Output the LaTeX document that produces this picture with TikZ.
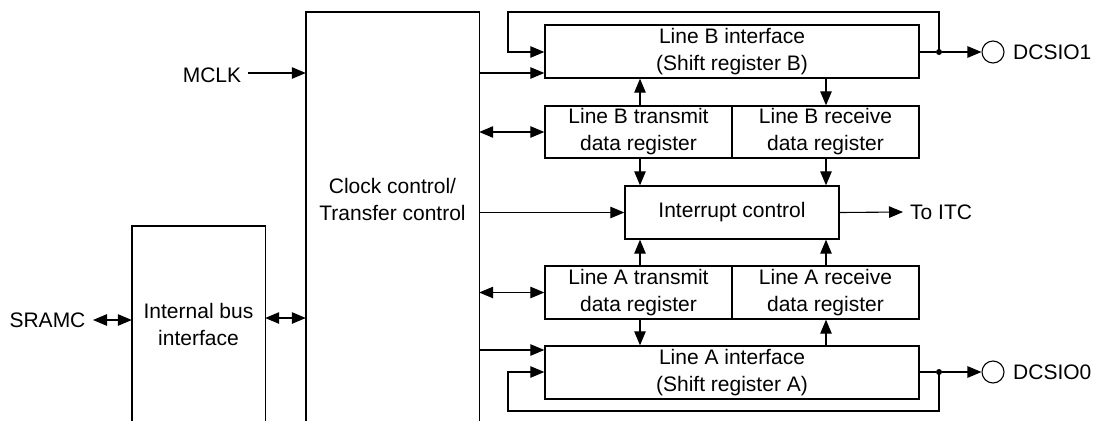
\documentclass[tikz,border=0pt]{standalone}
\usepackage{fontspec}
\setmainfont{Liberation Sans}
\usetikzlibrary{arrows.meta}
\begin{document}
\begin{tikzpicture}[x=1pt,y=-1pt,
  every node/.style={font=\fontsize{21}{27}\selectfont, inner sep=0pt},
  box/.style={draw, line width=1.4pt, align=center},
  conn/.style={line width=1.1pt},
  arr/.style={conn, -{Triangle[length=14pt,width=11.5pt]}},
  darr/.style={conn, {Triangle[length=14pt,width=11.5pt]}-{Triangle[length=14pt,width=11.5pt]}},
  dot/.style={circle, fill, minimum size=6pt, inner sep=0pt},
  port/.style={circle, draw, line width=1.1pt, minimum size=22pt, inner sep=0pt}]
\useasboundingbox (0,0) rectangle (1100,421);

% open-bottom boxes
\node[minimum width=173pt, minimum height=409pt] (clk) at (392.5,216.5) {};
\draw[line width=1.4pt] (clk.south west) -- (clk.north west) -- (clk.north east) -- (clk.south east);
\node[align=center] (clktxt) at (392.5,199) {Clock control/\\Transfer control};

\node[minimum width=133pt, minimum height=195pt] (ibi) at (198.5,323.5) {};
\draw[line width=1.4pt] (ibi.south west) -- (ibi.north west) -- (ibi.north east) -- (ibi.south east);
\node[align=center] (ibitxt) at (198.5,324) {Internal bus\\interface};

% right boxes
\node[box, minimum width=374pt, minimum height=53pt] (lbi) at (732,51.5) {Line B interface\\(Shift register B)};
\node[box, minimum width=187pt, minimum height=52pt] (lbt) at (638.5,132) {Line B transmit\\data register};
\node[box, minimum width=187pt, minimum height=52pt] (lbr) at (825.5,132) {Line B receive\\data register};
\node[box, minimum width=214pt, minimum height=53pt] (ic) at (732,212.5) {Interrupt control};
\node[box, minimum width=187pt, minimum height=53pt] (lat) at (638.5,292.5) {Line A transmit\\data register};
\node[box, minimum width=187pt, minimum height=53pt] (lar) at (825.5,292.5) {Line A receive\\data register};
\node[box, minimum width=374pt, minimum height=53pt] (lai) at (732,372.5) {Line A interface\\(Shift register A)};

% labels
\node (mclk) at (212,75) {MCLK};
\node (sramc) at (47.5,320) {SRAMC};
\node[anchor=west] (itc) at (910,212) {To ITC};

% ports
\node[port] (pB) at (993,52) {};
\node[anchor=west] (pBt) at (1013,52) {DCSIO1};
\node[port] (pA) at (993,372) {};
\node[anchor=west] (pAt) at (1013,372) {DCSIO0};
\node[dot] (jB) at (939,52) {};
\node[dot] (jA) at (939,372) {};

% left connectors
\draw[arr] (248,73) -- (clk.west |- 0,73);
\draw[darr] (93,320) -- (ibi.west |- 0,320);
\draw[darr] (ibi.east |- 0,318) -- (clk.west |- 0,318);

% clock to right blocks
\draw[arr] (clk.east |- 0,73) -- (lbi.west |- 0,73);
\draw[darr] (clk.east |- lbt) -- (lbt.west);
\draw[arr] (clk.east |- ic) -- (ic.west);
\draw[darr] (clk.east |- lat) -- (lat.west);
\draw[arr] (clk.east |- 0,350) -- (lai.west |- 0,350);

% line B
\draw[conn] (lbi.east |- jB) -- (jB);
\draw[arr] (jB) -- (pB.west);
\draw[arr] (jB.center) -- (939,12) -- (508,12) -- (508,52) -- (lbi.west |- 0,52);
\draw[arr] (lbt.north -| 640,0) -- (lbi.south -| 640,0);
\draw[arr] (lbi.south -| 826,0) -- (lbr.north -| 826,0);
\draw[arr] (lbt.south -| 640,0) -- (ic.north -| 640,0);
\draw[arr] (lbr.south -| 826,0) -- (ic.north -| 826,0);

% interrupt
\draw[arr] (ic.east) -- ([xshift=-7pt]itc.west);
\draw[arr] (lat.north -| 640,0) -- (ic.south -| 640,0);
\draw[arr] (lar.north -| 826,0) -- (ic.south -| 826,0);

% line A
\draw[arr] (lat.south -| 640,0) -- (lai.north -| 640,0);
\draw[arr] (lai.north -| 826,0) -- (lar.south -| 826,0);
\draw[conn] (lai.east |- jA) -- (jA);
\draw[arr] (jA) -- (pA.west);
\draw[arr] (jA.center) -- (939,411) -- (508,411) -- (508,372) -- (lai.west |- 0,372);
\end{tikzpicture}
\end{document}
